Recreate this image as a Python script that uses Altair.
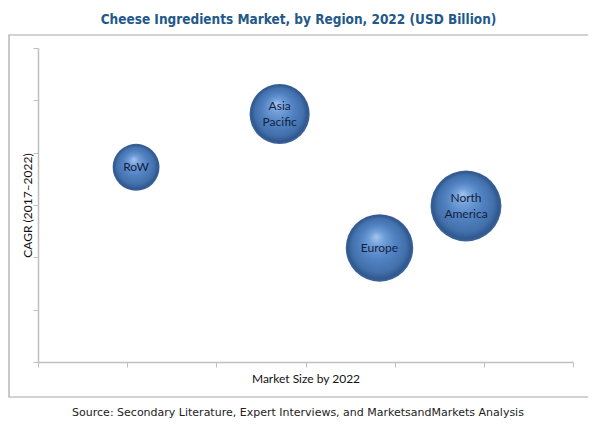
import altair as alt
import pandas as pd

# ---- data ----
regions = ["RoW", "Asia\nPacific", "Europe", "North\nAmerica"]
market_size = [1.10, 2.71, 3.83, 4.80]      # x position (axis units, unlabeled)
cagr = [3.72, 4.74, 2.18, 2.98]             # y position (axis units, unlabeled)
bubble_value = [0.70, 1.15, 1.45, 1.60]     # relative bubble size
axis_ticks = [0, 1, 2, 3, 4, 5, 6]

title_text = "Cheese Ingredients Market, by Region, 2022 (USD Billion)"
source_text = "Source: Secondary Literature, Expert Interviews, and MarketsandMarkets Analysis"

df = pd.DataFrame({
    "region": regions,
    "market_size": market_size,
    "cagr": cagr,
    "bubble": bubble_value,
})

axis_common = dict(
    values=axis_ticks, labels=False, grid=False,
    domainColor="#bfbfbf", tickColor="#bfbfbf", tickSize=5,
    domainWidth=1.5, tickWidth=1,
    titleFont="Lato", titleFontSize=12, titleFontWeight="normal", titleColor="#111111",
)

x_enc = alt.X("market_size:Q",
              scale=alt.Scale(domain=[0, 6], nice=False, zero=True),
              axis=alt.Axis(title="Market Size by 2022", titlePadding=6, **axis_common))
y_enc = alt.Y("cagr:Q",
              scale=alt.Scale(domain=[0, 6], nice=False, zero=True),
              axis=alt.Axis(title="CAGR (2017\u20132022)", titlePadding=-2, **axis_common))

gradient = alt.RadialGradient(
    gradient="radial",
    x1=0.45, y1=0.33, r1=0.0,
    x2=0.5, y2=0.5, r2=0.5,
    stops=[
        alt.GradientStop(offset=0.0, color="#a3c5ee"),
        alt.GradientStop(offset=0.22, color="#729fd9"),
        alt.GradientStop(offset=0.5, color="#5283c3"),
        alt.GradientStop(offset=0.8, color="#4270ab"),
        alt.GradientStop(offset=0.94, color="#30578d"),
        alt.GradientStop(offset=1.0, color="#4068a0"),
    ],
)

base = alt.Chart(df)

bubbles = base.mark_circle(fill=gradient, opacity=1, fillOpacity=1).encode(
    x=x_enc,
    y=y_enc,
    size=alt.Size("bubble:Q", scale=alt.Scale(domain=[0, 1.6], range=[0, 5027], zero=True), legend=None),
)

text_style = dict(font="Lato", fontSize=12, color="#14213d", lineBreak="\n", lineHeight=16,
                  align="center", baseline="middle")

labels_single = base.transform_filter("indexof(datum.region, '\\n') < 0").mark_text(
    **text_style
).encode(
    x=alt.X("market_size:Q"),
    y=alt.Y("cagr:Q"),
    text="region:N",
)

labels_multi = base.transform_filter("indexof(datum.region, '\\n') >= 0").mark_text(
    dy=-8, **text_style
).encode(
    x=alt.X("market_size:Q"),
    y=alt.Y("cagr:Q"),
    text="region:N",
)

one = pd.DataFrame({"k": [0]})

frame = alt.Chart(one).mark_rect(fillOpacity=0, stroke="#a6a6a6", strokeWidth=1.2).encode(
    x=alt.value(-29), x2=alt.value(552), y=alt.value(-13), y2=alt.value(349)
)

source = alt.Chart(one).mark_text(
    font="DejaVu Sans", fontSize=11, color="#222222", align="center", baseline="middle"
).encode(
    x=alt.value(260), y=alt.value(365), text=alt.value(source_text)
)

chart = alt.layer(frame, bubbles, labels_single, labels_multi, source).properties(
    width=535,
    height=314,
    title=alt.TitleParams(
        text=title_text, font="DejaVu Sans Condensed", fontSize=13.5,
        fontWeight="bold", color="#23588a", anchor="middle", dx=-7, offset=8,
    ),
    autosize=alt.AutoSizeParams(type="none"),
    padding={"left": 30, "top": 40, "right": 15, "bottom": 61},
).configure_view(stroke=None)

chart.save("out.html", embed_options={"renderer": "svg", "actions": False})
